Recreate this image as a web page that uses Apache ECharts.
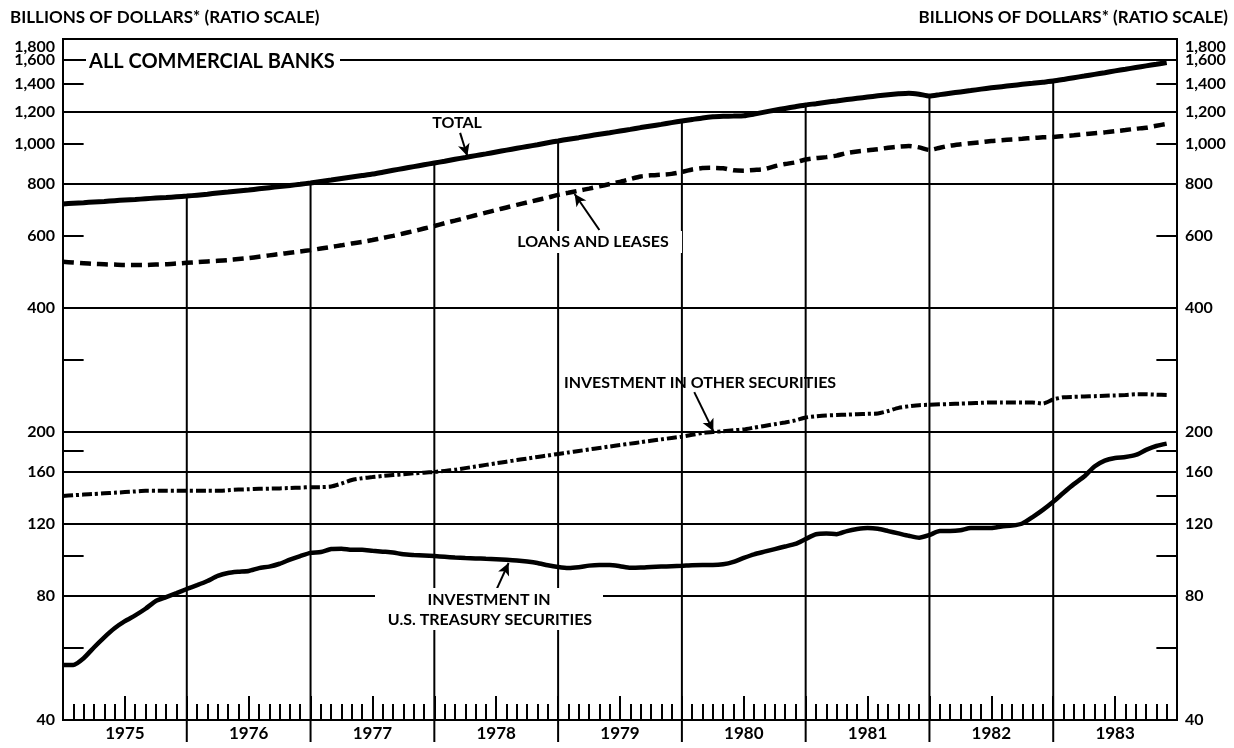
<!DOCTYPE html>
<html><head><meta charset="utf-8">
<script src="https://cdn.jsdelivr.net/npm/echarts@6/dist/echarts.min.js"></script>
<style>html,body{margin:0;padding:0;background:#fff}#c{width:1234px;height:748px}</style>
</head><body><div id="c"></div>
<script>
// ---- data (month index 0 = Jan 1975) ----
const yearLabels = ['1975','1976','1977','1978','1979','1980','1981','1982','1983'];
const monthIndex = Array.from({length:108}, (_, i) => i);
const totalValues = [716,719,721,724,726,729,732,734,737,740,742,745,748,
  752,756,761,765,770,774,779,784,789,794,799,805,
  812,818,825,832,839,846,855,864,873,882,891,900,
  909,919,928,938,947,957,967,977,987,997,1008,1018,
  1028,1037,1047,1057,1066,1076,1086,1097,1107,1117,1128,1138,
  1148,1158,1165,1168,1170,1172,
  1183,1196,1209,1221,1233,1245,
  1254,1264,1273,1283,1292,1301,
  1310,1318,1325,1330,1322,1309,
  1319,1329,1339,1349,1360,1370,
  1379,1388,1397,1405,1414,1423,
  1436,1450,1463,1477,1491,1506,
  1520,1535,1549,1563,1578];
const loansValues = [518,516,514,512,511,510,509,509,509,510,511,513,515,
  517,519,521,523,526,529,533,537,541,545,549,553,
  558,563,568,574,579,585,592,599,607,615,624,633,
  643,652,662,672,682,692,702,712,722,732,742,753,
  762,771,780,790,800,810,823,835,840,843,847,856,
  868,875,876,874,864,862,866,870,884,895,903,918,
  925,930,938,952,960,966,972,980,986,990,982,968,
  980,992,999,1005,1011,1018,1022,1027,1031,1035,1039,1041,
  1046,1051,1057,1063,1068,1075,1082,1090,1096,1108,1120];
const otherValues = [140,140.5,141,141.5,142,142.5,143,143.5,144,144,144,144,144,
  144,144,144,144.5,145,145.3,145.6,145.8,146,146.3,146.6,147,
  147,147.5,150,153,154.5,155.5,156.5,157.3,158,158.8,159.4,160,
  161,162,163.5,165,166.5,168,169.5,171,172.5,174,175.5,177,
  178.5,180,181.5,183,184.5,186,187.5,189,190.5,192,193.5,195,
  197,199,200,201,202,203,205,207,209,211,213.5,217,
  218.5,219.5,220,220.5,221,221.5,222,225,229,231,232.5,233,
  233.5,234,234.5,235,235.5,236,236,236,236,236,234.5,240,
  243,243.5,244,244.5,245,245.5,246,247,247,246.5,246];
const treasuryValues = [54.4,54.4,56.5,60,63.5,66.8,69.5,71.8,74.5,77.8,79.5,81.3,
  83.2,85,87,89.5,91,91.6,92,93.5,94.3,95.8,98,100,
  101.8,102.3,104,104.2,103.6,103.6,103,102.5,102,101,100.6,100.3,
  100,99.6,99.2,98.9,98.7,98.5,98.3,98,97.6,97,96.2,95,
  94.1,93.6,94,94.8,95.1,95.1,94.5,93.7,93.8,94.1,94.3,94.5,
  94.7,95,95.1,95.1,95.5,96.8,99,101,102.5,104,105.5,107,
  110,113,113.5,113,115,116.3,117,116.5,115,113.5,112,110.8,
  112.5,115,115,115.5,117,117,117,118,118.6,120,124.4,129.5,
  135.5,142.5,149.5,156,165,170.5,173,174,176,181,185,187.5];
const yLabelValues = [40,80,120,160,200,400,600,800,1000,1200,1400,1600,1800];
const fullGridValues = [1600,1200,800,400,200,160,120,80];
const leftShortTicks = [1400,1000,600,300,180,100,60];
const rightShortTicks = [1400,1000,600,300,180,140,100,60];
const yearBoundaries = [12,24,36,48,60,72,84,96];

// ---- build ----
const FONT = 'Lato';
const BLACK = '#000';
const fmt = v => v.toLocaleString('en-US');
const lineSt = {color: BLACK, width: 2, type: 'solid'};
const lblBase = {fontFamily: FONT, fontSize: 16, fontWeight: 'bold', color: BLACK, distance: 8,
  rich: {low: {fontFamily: FONT, fontSize: 16, fontWeight: 'bold', color: BLACK, padding: [16, 0, 0, 0]}}};

const frameLines = [];
fullGridValues.forEach(v => frameLines.push([{coord:[0,v], lineStyle:lineSt, label:{show:false}}, {coord:[108,v]}]));
leftShortTicks.forEach(v => frameLines.push([{coord:[0,v], lineStyle:lineSt, label:{show:false}}, {coord:[2,v]}]));
rightShortTicks.forEach(v => frameLines.push([{coord:[106,v], lineStyle:lineSt, label:{show:false}}, {coord:[108,v]}]));
yLabelValues.forEach(v => {
  const txt = v === 1800 ? '{low|' + fmt(v) + '}' : fmt(v);
  frameLines.push([{coord:[0,v], lineStyle:lineSt, label:Object.assign({show:true, position:'start', formatter:txt}, lblBase)}, {coord:[0.5,v]}]);
  frameLines.push([{coord:[107.5,v], lineStyle:lineSt, label:Object.assign({show:true, position:'end', formatter:txt}, lblBase)}, {coord:[108,v]}]);
});

const arrows = [
  [[38.5,1065],[39.2,936]],
  [[52.0,619],[49.6,757]],
  [[61.2,250],[63.05,201]],
  [[42.0,82.7],[43.2,96.2]]
].map(a => [{coord:a[0]}, {coord:a[1]}]);

const pairs = arr => monthIndex.map((m, i) => [m, arr[i]]);

const chart = echarts.init(document.getElementById('c'), null, {renderer:'canvas'});
chart.setOption({
  animation: false,
  backgroundColor: '#fff',
  grid: {left: 63, right: 57, top: 39, bottom: 28, show: true, borderColor: BLACK, borderWidth: 2, backgroundColor: 'transparent'},
  xAxis: [
    {type:'value', min:0, max:108, interval:1, position:'bottom',
     axisLine:{show:false}, splitLine:{show:false},
     axisTick:{show:true, inside:true, length:16, lineStyle:{color:BLACK, width:2}},
     axisLabel:{show:true, margin:5, fontFamily:FONT, fontSize:17, fontWeight:'bold', color:BLACK,
       formatter: v => (v % 12 === 6 ? yearLabels[(v - 6) / 12] : '')}},
    {type:'value', min:0, max:108, interval:6, position:'bottom',
     axisLine:{show:false}, splitLine:{show:false}, axisLabel:{show:false},
     axisTick:{show:true, inside:true, length:24, lineStyle:{color:BLACK, width:2}}}
  ],
  yAxis: [{type:'log', logBase:10, min:40, max:1800, axisLine:{show:false}, axisTick:{show:false}, axisLabel:{show:false}, splitLine:{show:false}}],
  series: [
    {type:'custom', name:'yearLines', z:1, clip:false, silent:true,
     data: yearBoundaries.map(k => [k, totalValues[k]]),
     renderItem: (params, api) => {
       const p = api.coord([api.value(0), api.value(1)]);
       const cs = params.coordSys;
       return {type:'line', shape:{x1:p[0], y1:p[1], x2:p[0], y2:cs.y + cs.height + 22}, style:{stroke:BLACK, lineWidth:2}};
     }},
    {type:'line', name:'frame', data:[[0,40]], symbol:'none', lineStyle:{width:0}, silent:true, clip:false,
     markLine:{silent:true, symbol:['none','none'], animation:false, label:{show:false}, emphasis:{disabled:true}, data: frameLines}},
    {type:'line', name:'arrows', data:[[0,40]], symbol:'none', lineStyle:{width:0}, silent:true, clip:false,
     markLine:{silent:true, symbol:['none','arrow'], symbolSize:[9,12], animation:false, label:{show:false},
       lineStyle:{color:BLACK, width:2, type:'solid'}, emphasis:{disabled:true}, data: arrows}},
    {type:'line', name:'TOTAL', data:pairs(totalValues), symbol:'none', smooth:0.2, z:3,
     lineStyle:{color:BLACK, width:5}},
    {type:'line', name:'LOANS AND LEASES', data:pairs(loansValues), symbol:'none', smooth:0.2, z:3,
     lineStyle:{color:BLACK, width:4.5, type:[11,6], cap:'butt'}},
    {type:'line', name:'INVESTMENT IN OTHER SECURITIES', data:pairs(otherValues), symbol:'none', smooth:0.2, z:3,
     lineStyle:{color:BLACK, width:4, type:[10,3,3,3], cap:'butt'}},
    {type:'line', name:'INVESTMENT IN U.S. TREASURY SECURITIES', data:pairs(treasuryValues), symbol:'none', smooth:0.2, z:3,
     lineStyle:{color:BLACK, width:4.5}}
  ],
  graphic: [
    {type:'text', x:10, y:18, z:100, style:{text:'BILLIONS OF DOLLARS* (RATIO SCALE)', font:'bold 17px Lato', fill:BLACK, align:'left', verticalAlign:'middle', textAlign:'left', textVerticalAlign:'middle'}},
    {type:'text', x:1228, y:18, z:100, style:{text:'BILLIONS OF DOLLARS* (RATIO SCALE)', font:'bold 17px Lato', fill:BLACK, align:'right', verticalAlign:'middle', textAlign:'right', textVerticalAlign:'middle'}},
    {type:'rect', shape:{x:86, y:50, width:254, height:24}, z:90, style:{fill:'#fff'}},
    {type:'text', x:89, y:62, z:100, style:{text:'ALL COMMERCIAL BANKS', font:'bold 20px Lato', fill:BLACK, align:'left', verticalAlign:'middle', textAlign:'left', textVerticalAlign:'middle'}},
    {type:'text', x:457, y:123, z:100, style:{text:'TOTAL', font:'bold 16px Lato', fill:BLACK, align:'center', verticalAlign:'middle', textAlign:'center', textVerticalAlign:'middle'}},
    {type:'rect', shape:{x:504, y:231, width:178, height:22}, z:90, style:{fill:'#fff'}},
    {type:'text', x:593, y:242, z:100, style:{text:'LOANS AND LEASES', font:'bold 16px Lato', fill:BLACK, align:'center', verticalAlign:'middle', textAlign:'center', textVerticalAlign:'middle'}},
    {type:'text', x:700, y:383, z:100, style:{text:'INVESTMENT IN OTHER SECURITIES', font:'bold 16px Lato', fill:BLACK, align:'center', verticalAlign:'middle', textAlign:'center', textVerticalAlign:'middle'}},
    {type:'rect', shape:{x:375, y:588, width:228, height:42}, z:90, style:{fill:'#fff'}},
    {type:'text', x:489, y:600, z:100, style:{text:'INVESTMENT IN', font:'bold 16px Lato', fill:BLACK, align:'center', verticalAlign:'middle', textAlign:'center', textVerticalAlign:'middle'}},
    {type:'text', x:490, y:620, z:100, style:{text:'U.S. TREASURY SECURITIES', font:'bold 16px Lato', fill:BLACK, align:'center', verticalAlign:'middle', textAlign:'center', textVerticalAlign:'middle'}}
  ]
});
</script>
</body></html>
